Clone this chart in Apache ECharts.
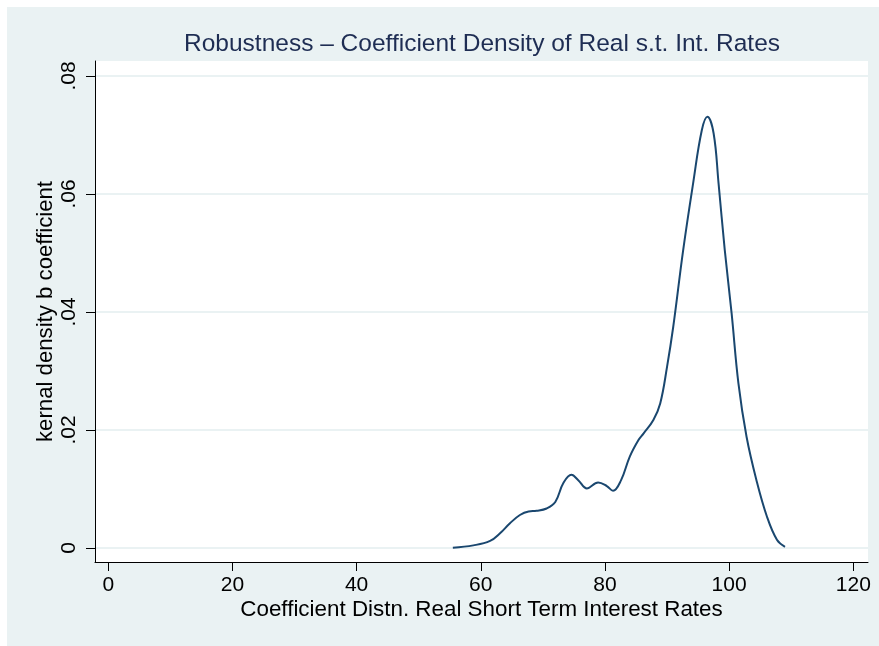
<!DOCTYPE html>
<html><head><meta charset="utf-8">
<script src="https://cdn.jsdelivr.net/npm/echarts@6/dist/echarts.min.js"></script>
<style>html,body{margin:0;padding:0;background:#fff}#c{width:879px;height:646px}</style>
</head><body><div id="c"></div>
<script>
const titleText = 'Robustness \u2013 Coefficient Density of Real s.t. Int. Rates';
const xTitle = 'Coefficient Distn. Real Short Term Interest Rates';
const yTitle = 'kernal density b coefficient';
const xTicks = [0, 20, 40, 60, 80, 100, 120];
const yTicks = [0, 0.02, 0.04, 0.06, 0.08];
const yTickLabels = ['0', '.02', '.04', '.06', '.08'];

const coefX = [55.5, 58.8, 61.5, 63.1, 64.7, 66.3, 67.7, 69.0, 70.6, 72.0, 73.3, 74.6, 75.7, 77.1, 78.9, 80.3, 81.3, 82.6, 84.0, 85.4, 86.2, 87.8, 88.9, 90.0, 91.0, 92.6, 94.2, 95.6, 96.5, 97.5, 98.3, 99.3, 100.4, 101.5, 102.8, 104.4, 106.1, 107.7, 109.0];
const densityY = [0.00005, 0.00045, 0.0012, 0.0025, 0.0042, 0.0056, 0.0062, 0.0063, 0.0067, 0.0078, 0.0110, 0.0124, 0.0115, 0.0101, 0.0111, 0.0105, 0.0097, 0.0115, 0.0155, 0.0183, 0.0194, 0.0217, 0.0245, 0.0307, 0.0375, 0.0505, 0.0618, 0.0708, 0.0731, 0.0703, 0.0618, 0.0505, 0.0398, 0.0279, 0.0189, 0.0115, 0.0053, 0.0014, 0.0002];

const FONT = '"Liberation Sans", Arial, sans-serif';
const chart = echarts.init(document.getElementById('c'), null, {renderer: 'canvas'});
const seriesData = coefX.map((x, i) => [x, densityY[i]]);

chart.setOption({
  animation: false,
  backgroundColor: '#EAF2F3',
  graphic: [
    {type: 'rect', shape: {x: 0, y: 0, width: 879, height: 7}, style: {fill: '#fff'}, silent: true},
    {type: 'rect', shape: {x: 0, y: 0, width: 7, height: 646}, style: {fill: '#fff'}, silent: true}
  ],
  title: {
    text: titleText, left: 477, top: 27, textAlign: 'center',
    textStyle: {fontFamily: FONT, fontSize: 24.5, fontWeight: 'normal', color: '#1e2d53'}
  },
  grid: {left: 95, right: 11, top: 61, bottom: 84, show: true, backgroundColor: '#fff', borderWidth: 0},
  xAxis: {
    type: 'value', min: -2.14, max: 122.37,
    name: xTitle, nameLocation: 'middle', nameGap: 37, nameMoveOverlap: false,
    nameTextStyle: {fontFamily: FONT, fontSize: 22.4, color: '#000'},
    axisLine: {show: true, onZero: false, lineStyle: {color: '#000', width: 1}},
    axisTick: {show: true, length: 9, customValues: xTicks, lineStyle: {color: '#000', width: 1}},
    axisLabel: {customValues: xTicks, margin: 13, fontFamily: FONT, fontSize: 21, color: '#000'},
    splitLine: {show: false}
  },
  yAxis: {
    type: 'value', min: -0.00237, max: 0.08254,
    name: yTitle, nameLocation: 'middle', nameGap: 38, nameRotate: 90, nameMoveOverlap: false,
    nameTextStyle: {fontFamily: FONT, fontSize: 22.2, color: '#000'},
    axisLine: {show: true, onZero: false, lineStyle: {color: '#000', width: 1}},
    axisTick: {show: true, length: 9, customValues: yTicks, lineStyle: {color: '#000', width: 1}},
    axisLabel: {
      customValues: yTicks, margin: 15, rotate: 90, fontFamily: FONT, fontSize: 21, color: '#000',
      formatter: function (v) {
        for (let i = 0; i < yTicks.length; i++) if (Math.abs(v - yTicks[i]) < 1e-9) return yTickLabels[i];
        return '';
      }
    },
    splitLine: {show: true, lineStyle: {color: '#EAF2F3', width: 2}}
  },
  series: [{
    type: 'line', data: seriesData, showSymbol: false, smooth: 0.4, clip: false,
    lineStyle: {color: '#1a476f', width: 2}, itemStyle: {color: '#1a476f'}
  }]
});
</script>
</body></html>
